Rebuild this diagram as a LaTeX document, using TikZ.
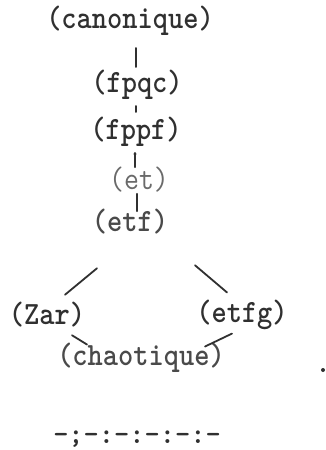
\documentclass[tikz,border=0pt]{standalone}
\usetikzlibrary{calc}
\definecolor{ink}{HTML}{303030}
\definecolor{faint}{HTML}{6A6A6A}
\definecolor{mid}{HTML}{4A4A4A}
\begin{document}
\begin{tikzpicture}[x=1pt,y=-1pt,
  lbl/.style={inner sep=0pt, yscale=1.12, font=\fontsize{29}{29}\selectfont\ttfamily\bfseries, text=ink},
  stroke/.style={draw=ink, line width=1.8pt, line cap=round}]
\useasboundingbox (0,0) rectangle (326,450);

% the lattice of topologies
\node[lbl] (can)   at (130,21)  {(canonique)};
\node[lbl] (fpqc)  at (137,85)  {(fpqc)};
\node[lbl] (fppf)  at (136,132) {(fppf)};
\node[lbl, text=faint, font=\fontsize{29}{29}\selectfont\ttfamily\mdseries] (et) at (139,180) {(et)};
\node[lbl, text=mid] (etf) at (130,222) {(etf)};
\node[lbl] (zar)   at (47,315)  {(Zar)};
\node[lbl] (etfg)  at (242,315) {(etfg)};
\node[lbl, text=mid] (chao) at (141,358) {(chaotique)};
\node[lbl, yscale=1/1.12, anchor=base] (rule) at (137,443) {-;-:-:-:-:-};

% vertical links
\draw[stroke] ($(can.south)+(6,12)$) -- ($(fpqc.north)+(-1,-3)$);
\draw[stroke] ($(fpqc.south)+(-1,6)$) -- ($(fppf.north)+(0,-5)$);
\draw[stroke] ($(fppf.south)+(-1,6)$) -- ($(et.north)+(-4,0)$);
\fill[ink] ($(fppf.south)+(-1,7)$) circle (1.6);
\draw[stroke] ($(et.south)+(-2,1)$) -- ($(etf.north)+(7,2)$);

% branching links
\coordinate (a1) at ($(etf.south)+(-33,33.5)$);
\coordinate (a2) at ($(zar.north)+(18,-7.5)$);
\coordinate (b1) at ($(etf.south)+(65,30.5)$);
\coordinate (b2) at ($(etfg.north)+(-15,-7.5)$);
\coordinate (c1) at ($(zar.south)+(25,7.5)$);
\coordinate (c2) at ($(chao.north)+(-54,1.5)$);
\coordinate (d1) at ($(etfg.south)+(-10,3.5)$);
\coordinate (d2) at ($(chao.north)+(64,3.5)$);
\draw[stroke] (a1) -- (a2);
\draw[stroke] (b1) -- (b2);
\draw[stroke] (c1) -- (c2);
\draw[stroke] (d1) -- (d2);

% end mark
\fill[ink] (323,370) circle (2);
\end{tikzpicture}
\end{document}
